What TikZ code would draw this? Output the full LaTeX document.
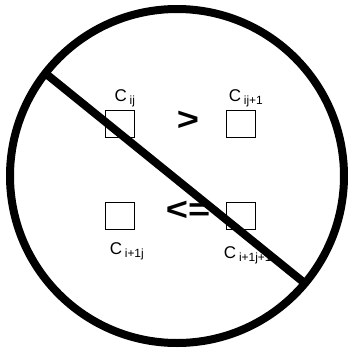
\documentclass[tikz,border=0pt]{standalone}
\usepackage{fontspec}
\setmainfont{Liberation Sans}
\usetikzlibrary{positioning}
\tikzset{
  cell/.style    = {draw, line width=1.3pt, minimum width=29pt, minimum height=27pt, inner sep=0pt},
  celllab/.style = {font=\fontsize{17}{19}\selectfont, inner sep=0pt},
  relsign/.style = {font=\fontsize{38}{40}\selectfont\bfseries, inner sep=0pt, yscale=0.85},
  ban/.style     = {line width=8pt},
}
\begin{document}
\begin{tikzpicture}[x=1pt, y=-1pt]
  \useasboundingbox (0,0) rectangle (348,357);
  \coordinate (O) at (177,176);
  \draw[ban] (O) circle (167pt);
  % the four cells
  \node[cell] (c11) at (120,124) {};
  \node[cell] (c12) at (241,124) {};
  \node[cell] (c21) at (120,216) {};
  \node[cell] (c22) at (241,216) {};
  \node[celllab] (l11) at (125,98)  {C\,\textsubscript{ij}};
  \node[celllab] (l12) at (246,98)  {C\,\textsubscript{ij+1}};
  \node[celllab] (l21) at (127,251) {C\,\textsubscript{i+1j}};
  \node[celllab] (l22) at (248,255) {C\,\textsubscript{i+1j+1}};
  \node[relsign] (gt) at (188,121) {>};
  \node[relsign] (le) at (188,211) {<=};
  % the bar through it
  \coordinate (P) at (45,73);
  \coordinate (Q) at (307,285);
  \draw[ban] (P) -- (Q);
\end{tikzpicture}
\end{document}
